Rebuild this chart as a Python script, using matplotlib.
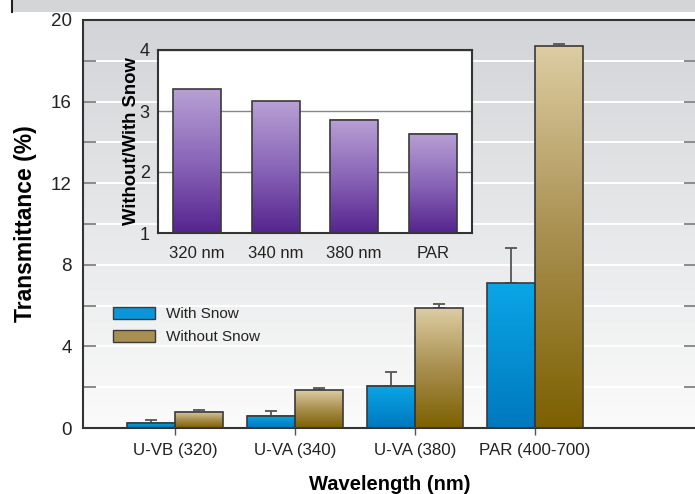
import matplotlib
matplotlib.use("Agg")
import matplotlib.pyplot as plt
import numpy as np
from matplotlib.colors import LinearSegmentedColormap
from matplotlib.patches import Patch, Rectangle
from matplotlib.lines import Line2D

plt.rcParams["font.family"] = ["Liberation Sans", "DejaVu Sans"]
plt.rcParams["text.color"] = "#222222"
plt.rcParams["xtick.labelcolor"] = "#222222"
plt.rcParams["ytick.labelcolor"] = "#222222"

categories = ["U-VB (320)", "U-VA (340)", "U-VA (380)", "PAR (400-700)"]
with_snow = [0.26, 0.60, 2.06, 7.09]
with_snow_err = [0.12, 0.25, 0.69, 1.71]
without_snow = [0.80, 1.86, 5.87, 18.73]
without_snow_err = [0.07, 0.12, 0.22, 0.07]

ratio_labels = ["320 nm", "340 nm", "380 nm", "PAR"]
ratio = [3.36, 3.16, 2.86, 2.63]

EDGE = "#3a3a3a"
blue_cmap = LinearSegmentedColormap.from_list("blue", ["#0078be", "#0aa6e6"])
gold_cmap = LinearSegmentedColormap.from_list("gold", ["#7c6000", "#a88f4f", "#ddcda3"])
purple_cmap = LinearSegmentedColormap.from_list("purple", ["#55248e", "#8a66b8", "#b8a0d4"])
bg_cmap = LinearSegmentedColormap.from_list("bg", ["#fbfbfb", "#d2d4d7"])
grad = np.linspace(0, 1, 256).reshape(-1, 1)


def gradient_bars(ax, xs, heights, width, cmap, base=0.0):
    for x, h in zip(xs, heights):
        ax.imshow(grad, cmap=cmap, origin="lower", aspect="auto",
                  extent=(x - width / 2, x + width / 2, base, h), zorder=2)
    ax.bar(xs, np.asarray(heights) - base, width, bottom=base, fill=False,
           edgecolor=EDGE, linewidth=1.2, zorder=3)


fig = plt.figure(figsize=(6.95, 4.94), dpi=100)

# header strip remnant at the very top
fig.patches.append(Rectangle((12 / 695, 1 - 12 / 494), 1, 12 / 494, transform=fig.transFigure,
                             facecolor="#d4d5d7", edgecolor="none"))
fig.lines.append(Line2D([12 / 695, 12 / 695], [1 - 12 / 494, 1], transform=fig.transFigure,
                        color="#222222", linewidth=1.5))

ax = fig.add_axes([83 / 695, 66 / 494, 614 / 695, 408 / 494])
ax.imshow(grad, cmap=bg_cmap, origin="lower", aspect="auto", extent=(0, 1, 0, 1),
          transform=ax.transAxes, zorder=0)

x = np.arange(len(categories))
w = 0.4
gradient_bars(ax, x - w / 2, with_snow, w, blue_cmap)
gradient_bars(ax, x + w / 2, without_snow, w, gold_cmap)
ax.errorbar(x - w / 2, with_snow, yerr=[np.zeros(len(x)), with_snow_err], fmt="none",
            ecolor="#555555", elinewidth=1.3, capsize=4.5, capthick=1.3, zorder=1.5)
ax.errorbar(x + w / 2, without_snow, yerr=[np.zeros(len(x)), without_snow_err], fmt="none",
            ecolor="#555555", elinewidth=1.3, capsize=4.5, capthick=1.3, zorder=1.5)

ax.set_xlim(-0.77, 4.35)
ax.set_ylim(0, 20)
ax.set_yticks([0, 4, 8, 12, 16, 20])
ax.set_yticks(np.arange(2, 20, 4), minor=True)
for yv in np.arange(2, 20, 2):
    ax.axhline(yv, color="white", linewidth=1.4, zorder=1)
ax.tick_params(axis="y", which="both", direction="in", length=9.5, width=1.2,
               color="#777777", right=True, labelsize=13.5, pad=8)
ax.set_xticks(x)
ax.set_xticklabels(categories)
ax.tick_params(axis="x", direction="out", length=5, width=1, color="#555555",
               labelsize=12.2, pad=6)
for s in ax.spines.values():
    s.set_color("#333333")
    s.set_linewidth(1.5)
ax.set_ylabel("Transmittance (%)", fontsize=16.5, fontweight="bold", labelpad=10)
ax.set_xlabel("Wavelength (nm)", fontsize=14.5, fontweight="bold", labelpad=12)

handles = [Patch(facecolor="#0a96d8", edgecolor=EDGE, label="With Snow"),
           Patch(facecolor="#a88f4f", edgecolor=EDGE, label="Without Snow")]
ax.legend(handles=handles, loc="upper left", bbox_to_anchor=(0.027, 0.330), frameon=False,
          fontsize=11, handlelength=2.75, handleheight=0.85, handletextpad=0.7, labelspacing=0.55)

# inset with the ratio
ins = fig.add_axes([158 / 695, 261 / 494, 314 / 695, 183 / 494])
ins.set_facecolor("white")
xi = np.arange(len(ratio_labels))
gradient_bars(ins, xi, ratio, 0.61, purple_cmap, base=1.0)
ins.set_xlim(-0.5, 3.5)
ins.set_ylim(1, 4)
ins.set_yticks([1, 2, 3, 4])
ins.grid(axis="y", color="#888888", linewidth=1.0, zorder=1)
ins.set_axisbelow(True)
ins.set_xticks(xi)
ins.set_xticklabels(ratio_labels)
ins.tick_params(axis="x", direction="in", length=3, color="#555555", labelsize=12, pad=9)
ins.tick_params(axis="y", length=0, labelsize=13, pad=6)
for s in ins.spines.values():
    s.set_color("#333333")
    s.set_linewidth(1.5)
ins.set_ylabel("Without/With Snow", fontsize=13.3, fontweight="bold", labelpad=0)

fig.savefig("out.png", dpi=100)
